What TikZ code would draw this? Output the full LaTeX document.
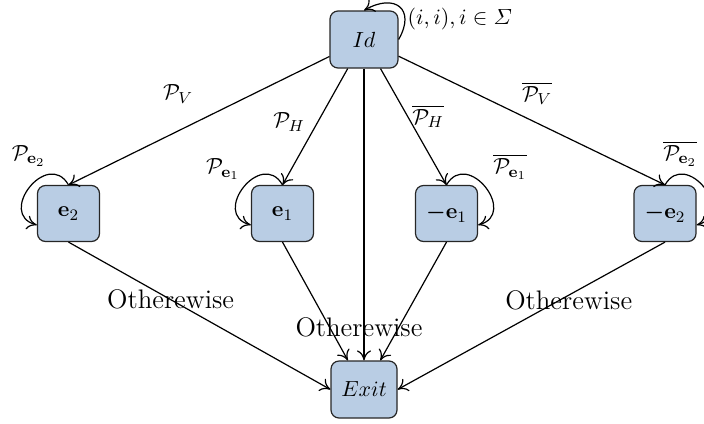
\documentclass[tikz,border=0pt,11pt]{standalone}
\usepackage{amsmath}
\usepackage{tikz}
\usepackage{xcolor}
\usetikzlibrary{arrows.meta}

\definecolor{boxblue}{RGB}{185,205,228}

\begin{document}
\begin{tikzpicture}[x=0.5pt, y=-0.5pt, line width=0.6pt, >={Computer Modern Rightarrow[length=5pt, width=7pt]},
    state/.style={rectangle, rounded corners=4pt, draw=black!85, fill=boxblue, line width=0.6pt, minimum width=31pt, minimum height=28pt},
    other/.style={font=\fontsize{13.4}{16}\selectfont}]
    \useasboundingbox (0,0) rectangle (704,423);

    \node[state, minimum width=34pt, minimum height=28.5pt] (Id) at (364,39.5) {$Id$};
    \node[state] (e2) at (68.5,213.5) {$\mathbf{e}_2$};
    \node[state] (e1) at (282.5,213.5) {$\mathbf{e}_1$};
    \node[state] (me1) at (446.5,213.5) {$\boldsymbol{-}\mathbf{e}_1$};
    \node[state] (me2) at (665,213.5) {$\boldsymbol{-}\mathbf{e}_2$};
    \node[state, minimum width=33pt, minimum height=28.5pt] (Exit) at (364,389.5) {$Exit$};

    \draw[->] (Id.east) to[out=60, in=30, looseness=2] node[pos=0.3, right, xshift=-2.5pt, yshift=-1.5pt] {$(i,i), i\in\varSigma$} (Id.north);
    \draw[->] (Id) -- (e2.north) node[pos=0.58, yshift=18.5pt] {$\mathcal{P}_V$};
    \draw[->] (Id) -- (e1.north) node[pos=0.46, xshift=-14.3pt] {$\mathcal{P}_H$};
    \draw[->] (Id) -- (me1.north) node[pos=0.41, xshift=10.3pt] {$\overline{\mathcal{P}_H}$};
    \draw[->] (Id) -- (me2.north) node[pos=0.52, yshift=15pt] {$\overline{\mathcal{P}_V}$};

    \draw[->] (e2.north) to[out=120, in=165, looseness=2.1] node[pos=0.2, above left] {$\mathcal{P}_{\mathbf{e}_2}$} (e2.200);
    \draw[->] (e1.north) to[out=120, in=165, looseness=2.1] node[pos=0.5, above left, xshift=2pt] {$\mathcal{P}_{\mathbf{e}_1}$} (e1.200);
    \draw[->] (me1.north) to[out=60, in=15, looseness=2.1] node[pos=0.5, above right] {$\overline{\mathcal{P}_{\mathbf{e}_1}}$} (me1.-20);
    \draw[->] (me2.north) to[out=60, in=15, looseness=2.1] node[pos=0.2, above] {$\overline{\mathcal{P}_{\mathbf{e}_2}}$} (me2.-20);

    \draw[->] (e2.south) -- (Exit.west) node[pos=0.39, other] {Otherewise};
    \draw[->] (e1.south) -- (Exit);
    \draw[->] (Id) -- (Exit) node[pos=0.887, xshift=-2.5pt, other] {Otherewise};
    \draw[->] (me1.south) -- (Exit);
    \draw[->] (me2.south) -- (Exit.east) node[pos=0.36, yshift=-2.5pt, other] {Otherewise};

\end{tikzpicture}
\end{document}
